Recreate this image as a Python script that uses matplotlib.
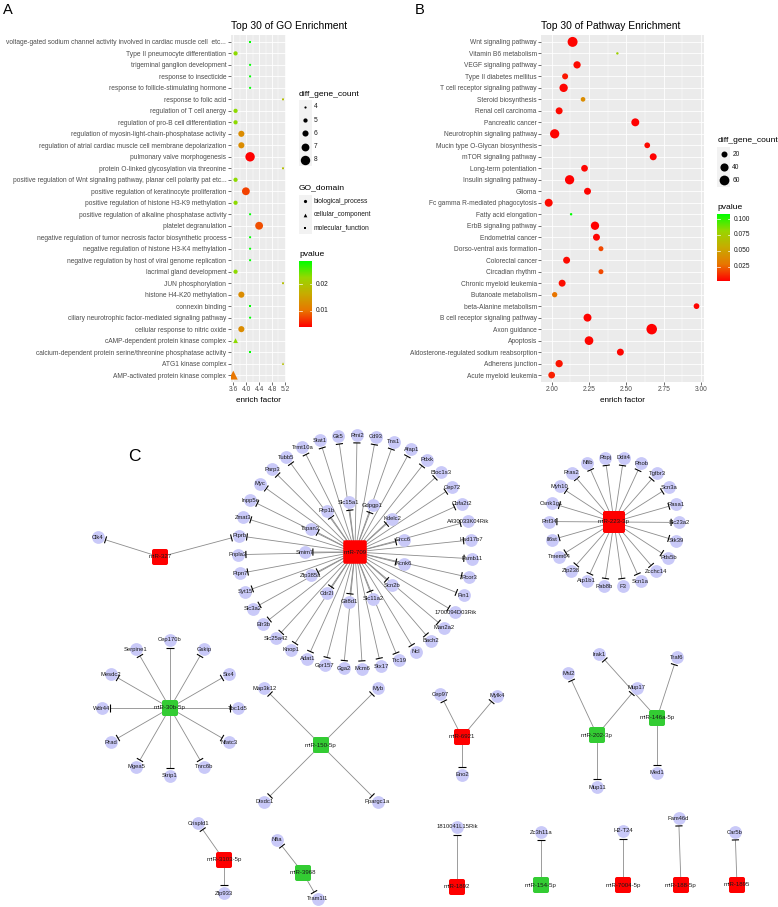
import numpy as np
import matplotlib
matplotlib.use('Agg')
import matplotlib.pyplot as plt
from matplotlib.colors import LinearSegmentedColormap, Normalize
from matplotlib.patches import FancyBboxPatch, Rectangle
from matplotlib.collections import LineCollection

plt.rcParams['font.family'] = ['Liberation Sans', 'DejaVu Sans']

# ---------------- A: GO enrichment (listed top to bottom) ----------------
go_terms = [
    "voltage-gated sodium channel activity involved in cardiac muscle cell  etc...",
    "Type II pneumocyte differentiation",
    "trigeminal ganglion development",
    "response to insecticide",
    "response to follicle-stimulating hormone",
    "response to folic acid",
    "regulation of T cell anergy",
    "regulation of pro-B cell differentiation",
    "regulation of myosin-light-chain-phosphatase activity",
    "regulation of atrial cardiac muscle cell membrane depolarization",
    "pulmonary valve morphogenesis",
    "protein O-linked glycosylation via threonine",
    "positive regulation of Wnt signaling pathway, planar cell polarity pat etc...",
    "positive regulation of keratinocyte proliferation",
    "positive regulation of histone H3-K9 methylation",
    "positive regulation of alkaline phosphatase activity",
    "platelet degranulation",
    "negative regulation of tumor necrosis factor biosynthetic process",
    "negative regulation of histone H3-K4 methylation",
    "negative regulation by host of viral genome replication",
    "lacrimal gland development",
    "JUN phosphorylation",
    "histone H4-K20 methylation",
    "connexin binding",
    "ciliary neurotrophic factor-mediated signaling pathway",
    "cellular response to nitric oxide",
    "cAMP-dependent protein kinase complex",
    "calcium-dependent protein serine/threonine phosphatase activity",
    "ATG1 kinase complex",
    "AMP-activated protein kinase complex",
]
BP, CC, MF = "biological_process", "cellular_component", "molecular_function"
go_domain = [MF, BP, BP, BP, BP, BP, BP, BP, BP, BP,
             BP, BP, BP, BP, BP, BP, BP, BP, BP, BP,
             BP, BP, BP, MF, BP, BP, CC, MF, CC, CC]
go_factor = [4.12, 3.67, 4.12, 4.12, 4.12, 5.14, 3.67, 3.67, 3.85, 3.85,
             4.12, 5.14, 3.67, 3.99, 3.67, 4.12, 4.40, 4.12, 4.12, 4.12,
             3.67, 5.14, 3.85, 4.12, 4.12, 3.85, 3.67, 4.12, 5.14, 3.60]
go_count = [4, 5, 4, 4, 4, 4, 5, 5, 6, 6,
            8, 4, 5, 7, 5, 4, 7, 4, 4, 4,
            5, 4, 6, 4, 4, 6, 5, 4, 4, 7]
go_pvalue = [0.0286, 0.0228, 0.0286, 0.0286, 0.0286, 0.0188, 0.0228, 0.0228, 0.0125, 0.0125,
             0.0037, 0.0188, 0.0228, 0.0072, 0.0228, 0.0286, 0.0078, 0.0286, 0.0286, 0.0286,
             0.0228, 0.0188, 0.0125, 0.0286, 0.0286, 0.0125, 0.0228, 0.0286, 0.0188, 0.0100]

# ---------------- B: pathway enrichment (listed top to bottom) ----------------
kegg_terms = [
    "Wnt signaling pathway", "Vitamin B6 metabolism", "VEGF signaling pathway",
    "Type II diabetes mellitus", "T cell receptor signaling pathway", "Steroid biosynthesis",
    "Renal cell carcinoma", "Pancreatic cancer", "Neurotrophin signaling pathway",
    "Mucin type O-Glycan biosynthesis", "mTOR signaling pathway", "Long-term potentiation",
    "Insulin signaling pathway", "Glioma", "Fc gamma R-mediated phagocytosis",
    "Fatty acid elongation", "ErbB signaling pathway", "Endometrial cancer",
    "Dorso-ventral axis formation", "Colorectal cancer", "Circadian rhythm",
    "Chronic myeloid leukemia", "Butanoate metabolism", "beta-Alanine metabolism",
    "B cell receptor signaling pathway", "Axon guidance", "Apoptosis",
    "Aldosterone-regulated sodium reabsorption", "Adherens junction", "Acute myeloid leukemia",
]
kegg_factor = [2.14, 2.44, 2.17, 2.09, 2.08, 2.21, 2.05, 2.56, 2.02, 2.64,
               2.68, 2.22, 2.12, 2.24, 1.98, 2.13, 2.29, 2.30, 2.33, 2.10,
               2.33, 2.07, 2.02, 2.97, 2.24, 2.67, 2.25, 2.46, 2.05, 2.00]
kegg_count = [62, 2, 31, 20, 42, 11, 28, 38, 53, 18,
              28, 26, 53, 28, 38, 2, 42, 28, 13, 28,
              13, 28, 15, 18, 38, 70, 46, 28, 31, 26]
kegg_pvalue = [0.004, 0.078, 0.005, 0.008, 0.004, 0.040, 0.005, 0.003, 0.004, 0.005,
               0.003, 0.004, 0.003, 0.004, 0.005, 0.108, 0.0028, 0.004, 0.019, 0.005,
               0.019, 0.006, 0.029, 0.004, 0.004, 0.003, 0.004, 0.004, 0.007, 0.010]

# ---------------- C: miRNA - target network ----------------
mir_up = ["miR-709", "miR-327", "miR-223-3p", "miR-6921", "miR-3103-5p", "miR-1892",
          "miR-7004-5p", "miR-188-5p", "miR-1895"]
mir_down = ["miR-30b-5p", "miR-150-5p", "miR-202-3p", "miR-146a-5p", "miR-3968", "miR-154-5p"]
mir_targets = {
    "miR-709": ["Rmi2", "Cd93", "Tns1", "Afap1", "Pdxk", "Bloc1s3", "Cep72", "Cbfa2t2",
                "A430033K04Rik", "Hsd17b7", "Psmb11", "Rcor3", "Pin1", "1700094D03Rik",
                "Man2a2", "Bach2", "Ncl", "Ttc19", "Stx17", "Mcm6", "Gga2", "Gpr157",
                "Adat1", "Knop1", "Slc25a42", "Efr3b", "Slc3a2", "Syt15", "Ptpn7",
                "Pnpla3", "Ptprb", "Zmat3", "Inpp5e", "Myc", "Parp3", "Tubb5", "Trmt10a",
                "Stat1", "Gk5",
                "Slc15a1", "Gdpgp1", "Kdelc2", "Ercc6", "Kcnk6", "Scn2b", "Slc11a2",
                "Glt8d1", "Cdr2l", "Zfp385a", "Smim7", "Tspan3", "Rrp1b"],
    "miR-327": ["Ptprb", "Clk4"],
    "miR-223-3p": ["Rbpj", "Ddit4", "Rhob", "Tgfbr3", "Scn3a", "Rasa1", "Slc23a2", "Stk39",
                   "Pds5b", "Zcchc14", "Scn1a", "F3", "Rab8b", "Atp1b1", "Zfp238", "Tmem64",
                   "Il6st", "Rnf34", "Csnk1g1", "Myh10", "Rras2", "Nfib"],
    "miR-30b-5p": ["Cep170b", "Gskip", "Six4", "Tbc1d5", "Nfatc3", "Tnrc6b", "Strip1",
                   "Mgea5", "Rrad", "Wdr44", "Mesdc2", "Serpine1"],
    "miR-150-5p": ["Myb", "Ppargc1a", "Dixdc1", "Map3k12"],
    "miR-6921": ["Mylk4", "Eno2", "Cep97"],
    "miR-202-3p": ["Mup17", "Mup11", "Msl2"],
    "miR-146a-5p": ["Traf6", "Med1", "Irak1"],
    "miR-3103-5p": ["Crispld1", "Zfp933"],
    "miR-3968": ["Nfia", "Tram1l1"],
    "miR-1892": ["1810041L15Rik"],
    "miR-154-5p": ["Zc3h11a"],
    "miR-7004-5p": ["H2-T24"],
    "miR-188-5p": ["Fam46d"],
    "miR-1895": ["Car5b"],
}

# ---------------- network layout (pixel frame of the figure) ----------------
hub_center = {
    "miR-709": (355, 552), "miR-327": (160, 557), "miR-223-3p": (614, 522),
    "miR-30b-5p": (170, 708), "miR-150-5p": (321, 745), "miR-6921": (462, 737),
    "miR-202-3p": (597, 735), "miR-146a-5p": (657, 718), "miR-3103-5p": (224, 860),
    "miR-3968": (303, 873), "miR-1892": (457, 887), "miR-154-5p": (541, 885),
    "miR-7004-5p": (623, 885), "miR-188-5p": (681, 885), "miR-1895": (737, 885),
}
hub_side = {"miR-709": 23.5, "miR-223-3p": 22}
# circular rings: (number of targets, radius, angle of the first one), clockwise
rings = {
    "miR-709": [(39, 117, 89), (13, 50, 97)],
    "miR-223-3p": [(22, 65, 97.8)],
    "miR-30b-5p": [(12, 68, 90)],
    "miR-150-5p": [(4, 80, 45)],
}
# single spokes (angle, radius) for the small hubs; None = node placed elsewhere
spokes = {
    "miR-327": [None, (162.5, 65)],
    "miR-6921": [(50, 54), (-90, 38), (117, 48)],
    "miR-202-3p": [(50, 62), (-90, 52), (115, 68)],
    "miR-146a-5p": [(72, 64), (-90, 55), (132, 86)],
    "miR-3103-5p": [(125, 45), (-90, 33)],
    "miR-3968": [(128, 42), (-60, 30)],
    "miR-1892": [(90, 60)], "miR-154-5p": [(90, 53)], "miR-7004-5p": [(90, 54)],
    "miR-188-5p": [(92, 67)], "miR-1895": [(92, 53)],
}

W, H = 778, 907
fig = plt.figure(figsize=(W / 100, H / 100), dpi=100)


def px_axes(x0, y0, x1, y1):
    return fig.add_axes([x0 / W, 1 - y1 / H, (x1 - x0) / W, (y1 - y0) / H])


cmap = LinearSegmentedColormap.from_list(
    "red_green", ["#FF0000", "#E87600", "#C8AB00", "#98D700", "#00FF00"])
shape_marker = {BP: "o", CC: "^", MF: "s"}
marker_area = {"o": 1.0, "^": 1.3, "s": 0.75}


def dot_area(count, cmin, cmax, k):
    # ggplot-like area scale, size range 1..6
    size = 1 + 5 * (np.sqrt(count) - np.sqrt(cmin)) / (np.sqrt(cmax) - np.sqrt(cmin))
    return (k * (size + 0.5) * 0.72) ** 2


def enrichment_panel(box, title, terms, factor, count, pvalue, domain, xticks, fmt, k):
    ax = px_axes(*box)
    factor = np.asarray(factor)
    count = np.asarray(count)
    pvalue = np.asarray(pvalue)
    y = np.arange(len(terms))
    norm = Normalize(pvalue.min(), pvalue.max())
    areas = dot_area(count, count.min(), count.max(), k)
    for dom in dict.fromkeys(domain):
        m = np.array([d == dom for d in domain])
        mk = shape_marker[dom]
        ax.scatter(factor[m], y[m], s=areas[m] * marker_area[mk], c=cmap(norm(pvalue[m])),
                   marker=mk, linewidths=0, zorder=3)
    ax.set_facecolor("#EBEBEB")
    ax.set_yticks(y)
    ax.set_yticklabels(terms)
    ax.set_ylim(len(terms) - 0.4, -0.6)
    r = factor.max() - factor.min()
    ax.set_xlim(factor.min() - 0.05 * r, factor.max() + 0.05 * r)
    ax.set_xticks(xticks)
    ax.set_xticklabels([fmt % t for t in xticks])
    step = xticks[1] - xticks[0]
    ax.set_xticks([t + step / 2 for t in xticks[:-1]], minor=True)
    ax.grid(which="major", color="white", lw=0.6)
    ax.grid(which="minor", axis="x", color="white", lw=0.3)
    ax.set_axisbelow(True)
    for sp in ax.spines.values():
        sp.set_visible(False)
    ax.tick_params(which="major", length=2, width=0.5, color="#333333",
                   labelsize=4.8, labelcolor="#4D4D4D", pad=1.2)
    ax.tick_params(which="minor", length=0)
    ax.set_xlabel("enrich factor", fontsize=5.9, labelpad=2.5)
    ax.set_title(title, loc="left", fontsize=7.4, pad=4.5)
    return ax, norm


axA, normA = enrichment_panel((230.8, 35, 285.5, 382), "Top 30 of GO Enrichment",
                              go_terms, go_factor, go_count, go_pvalue, go_domain,
                              [3.6, 4.0, 4.4, 4.8, 5.2], "%.1f", 1.45)
axB, normB = enrichment_panel((541.3, 35, 703.9, 382), "Top 30 of Pathway Enrichment",
                              kegg_terms, kegg_factor, kegg_count, kegg_pvalue,
                              [BP] * len(kegg_terms), [2.0, 2.25, 2.5, 2.75, 3.0], "%.2f", 1.62)

# overlay in pixel coordinates for legends and the network
ov = fig.add_axes([0, 0, 1, 1])
ov.set_axis_off()


def size_legend(x, y0, values, counts, k):
    ov.text(x, y0, "diff_gene_count", fontsize=6.1, va="center", ha="left")
    cmin, cmax = min(counts), max(counts)
    for i, v in enumerate(values):
        yy = y0 + 13 + i * 13.2
        ov.add_patch(Rectangle((x, yy - 6.6), 12.6, 13.2, fc="#F2F2F2", ec="none", zorder=1))
        ov.scatter([x + 6.3], [yy], s=dot_area(v, cmin, cmax, k), c="black",
                   linewidths=0, zorder=2)
        ov.text(x + 15, yy, str(v), fontsize=4.8, va="center", color="#1A1A1A")


def colorbar_legend(x, y_title, y_top, y_bot, norm, ticks, fmt):
    ov.text(x, y_title, "pvalue", fontsize=6.1, va="center", ha="left")
    grad = cmap(np.linspace(1, 0, 256))[:, None, :]
    ov.imshow(grad, extent=(x, x + 13, y_bot, y_top), aspect="auto", zorder=1)
    for t in ticks:
        yy = y_bot - norm(t) * (y_bot - y_top)
        ov.plot([x, x + 2.6], [yy, yy], color="white", lw=0.5, zorder=2)
        ov.plot([x + 10.4, x + 13], [yy, yy], color="white", lw=0.5, zorder=2)
        ov.text(x + 16.4, yy, fmt % t, fontsize=4.8, va="center", color="#1A1A1A")


size_legend(299, 94, [4, 5, 6, 7, 8], go_count, 1.45)
ov.text(299, 188, "GO_domain", fontsize=6.1, va="center", ha="left")
for i, dom in enumerate([BP, CC, MF]):
    yy = 201.3 + i * 13.3
    ov.add_patch(Rectangle((299, yy - 6.6), 12.6, 13.2, fc="#F2F2F2", ec="none", zorder=1))
    mk = shape_marker[dom]
    ov.scatter([305.3], [yy], s=(3.2 * 0.72) ** 2 * marker_area[mk], c="black",
               marker=mk, linewidths=0, zorder=2)
    ov.text(314, yy, dom, fontsize=4.8, va="center", color="#1A1A1A")
colorbar_legend(299.3, 255, 261.7, 327.3, normA, [0.01, 0.02], "%.2f")

size_legend(717.3, 141, [20, 40, 60], kegg_count, 1.62)
colorbar_legend(717.3, 207.7, 214, 280.7, normB, [0.025, 0.05, 0.075, 0.1], "%.3f")

ov.text(8, 10, "A", fontsize=10.5, ha="center", va="center")
ov.text(420, 10, "B", fontsize=10.5, ha="center", va="center")
ov.text(134.5, 456.5, "C", fontsize=12.5, ha="center", va="center")

# ---- network C ----
pos = {}
for hub, targets in mir_targets.items():
    cx, cy = hub_center[hub]
    if hub in rings:
        i0 = 0
        for n, rad, a0 in rings[hub]:
            for j in range(n):
                a = np.radians(a0 - j * 360.0 / n)
                pos[targets[i0 + j]] = (cx + rad * np.cos(a), cy - rad * np.sin(a))
            i0 += n
    else:
        for t, sp in zip(targets, spokes[hub]):
            if sp is None:
                continue
            a = np.radians(sp[0])
            pos[t] = (cx + sp[1] * np.cos(a), cy - sp[1] * np.sin(a))

node_d = 12.8
edges, bars = [], []
for hub, targets in mir_targets.items():
    cx, cy = hub_center[hub]
    for t in targets:
        tx, ty = pos[t]
        u = np.array([tx - cx, ty - cy])
        u = u / np.hypot(*u)
        end = np.array([tx, ty]) - u * (node_d / 2 + 1.5)
        edges.append([(cx, cy), tuple(end)])
        pvec = np.array([-u[1], u[0]]) * 3.6
        bars.append([tuple(end - pvec), tuple(end + pvec)])
ov.add_collection(LineCollection(edges, colors="#8C8C8C", linewidths=0.6, zorder=2))
ov.add_collection(LineCollection(bars, colors="black", linewidths=0.8, zorder=2))

names = list(pos)
ov.scatter([pos[n][0] for n in names], [pos[n][1] for n in names],
           s=(node_d * 0.72) ** 2, c="#C9C9F8", linewidths=0, zorder=3)
for n in names:
    ov.text(pos[n][0], pos[n][1], n, fontsize=4.2, ha="center", va="center",
            color="#1A1A1A", zorder=6)

for hub, (cx, cy) in hub_center.items():
    side = hub_side.get(hub, 16)
    col = "#FF0000" if hub in mir_up else "#33CC33"
    ov.add_patch(FancyBboxPatch((cx - side / 2, cy - side / 2), side, side,
                                boxstyle="round,pad=0,rounding_size=2",
                                fc=col, ec="none", zorder=4))
    ov.text(cx, cy, hub, fontsize=4.4, ha="center", va="center", color="#1A1A1A", zorder=6)

ov.set_xlim(0, W)
ov.set_ylim(H, 0)

fig.savefig("out.png", dpi=100)
